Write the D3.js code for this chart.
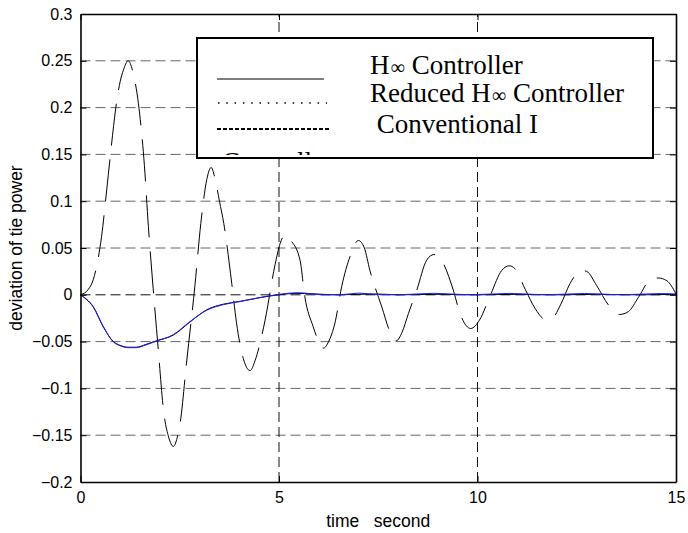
<!DOCTYPE html>
<html>
<head>
<meta charset="utf-8">
<title>deviation of tie power</title>
<script src="https://cdn.jsdelivr.net/npm/d3@7/dist/d3.min.js"></script>
<style>
  body { margin: 0; background: #fff; }
  svg { display: block; }
  .tick-label { font-family: "Liberation Sans", Arial, sans-serif; font-size: 16px; fill: #000; }
  .axis-title { font-family: "Liberation Sans", Arial, sans-serif; font-size: 17.5px; fill: #000; }
  .legend-text { font-family: "Liberation Serif", "Times New Roman", serif; font-size: 27px; fill: #000; }
</style>
</head>
<body>
<div id="chart"></div>
<script>
// time axis ticks and value ticks
var xTicks = [0, 5, 10, 15];
var yTicks = [-0.2, -0.15, -0.1, -0.05, 0, 0.05, 0.1, 0.15, 0.2, 0.25, 0.3];

// H-infinity controller response (time, value)
var hinfT = [0, 0.15, 0.32, 0.57, 0.83, 1.0, 1.2, 1.4, 1.65, 1.92, 2.34, 2.76, 3.18, 3.6, 4.02, 4.52, 5.0, 5.4, 5.9, 6.4, 7.0, 7.5, 8.0, 9.0, 10.0, 11.0, 12.0, 13.0, 14.0, 15.0];
var hinfV = [0, -0.005, -0.013, -0.034, -0.050, -0.054, -0.056, -0.056, -0.053, -0.049, -0.043, -0.029, -0.016, -0.010, -0.007, -0.003, 0.0, 0.0015, 0.001, 0.0, 0.0005, 0.0008, 0.0, 0.0005, 0.0, 0.0005, 0.0, 0.0005, 0.0, 0.0005];

// reduced H-infinity controller response
var redT = [0, 0.15, 0.32, 0.57, 0.83, 1.0, 1.2, 1.4, 1.65, 1.92, 2.34, 2.76, 3.18, 3.6, 4.02, 4.52, 5.0, 5.5, 6.1, 6.6, 7.0, 7.5, 8.0, 8.9, 9.8, 10.8, 11.7, 12.7, 13.6, 14.6, 15.0];
var redV = [0, -0.0045, -0.0125, -0.0335, -0.0505, -0.0545, -0.0565, -0.0565, -0.0535, -0.0495, -0.0425, -0.0285, -0.0165, -0.0105, -0.0072, -0.003, 0.0005, 0.0022, 0.0, 0.0002, 0.0018, 0.0003, 0.0, 0.0016, 0.0, 0.0015, 0.0, 0.0014, 0.0, 0.0013, 0.0008];

// conventional integral controller response
var convT = [0, 0.2, 0.32, 0.45, 0.53, 0.66, 0.78, 0.89, 1.0, 1.08, 1.2, 1.32, 1.46, 1.61, 1.71, 1.83, 1.96, 2.09, 2.22, 2.34, 2.45, 2.51, 2.67, 2.88, 3.03, 3.18, 3.29, 3.39, 3.5, 3.61, 3.81, 3.93, 4.1, 4.27, 4.4, 4.52, 4.65, 4.9, 5.03, 5.15, 5.3, 5.53, 5.65, 5.86, 6.0, 6.12, 6.25, 6.41, 6.58, 6.79, 7.0, 7.15, 7.29, 7.59, 7.8, 7.96, 8.1, 8.26, 8.47, 8.72, 8.9, 9.06, 9.39, 9.56, 9.83, 10.05, 10.31, 10.61, 10.8, 10.94, 11.2, 11.45, 11.7, 11.9, 12.1, 12.33, 12.62, 12.75, 13.0, 13.3, 13.58, 13.8, 14.05, 14.35, 14.55, 14.77, 15.0];
var convV = [0, 0.006, 0.016, 0.040, 0.062, 0.112, 0.160, 0.200, 0.228, 0.240, 0.250, 0.238, 0.204, 0.138, 0.073, 0.007, -0.059, -0.123, -0.152, -0.162, -0.150, -0.137, -0.073, 0.009, 0.076, 0.123, 0.136, 0.124, 0.100, 0.076, 0.012, -0.030, -0.068, -0.081, -0.070, -0.052, -0.027, 0.032, 0.055, 0.064, 0.058, 0.037, -0.002, -0.034, -0.050, -0.057, -0.050, -0.030, 0.009, 0.041, 0.058, 0.050, 0.026, -0.013, -0.040, -0.049, -0.040, -0.020, 0.005, 0.037, 0.043, 0.039, 0.005, -0.020, -0.036, -0.027, -0.002, 0.026, 0.031, 0.028, 0.006, -0.0145, -0.026, -0.024, -0.010, 0.012, 0.026, 0.025, 0.010, -0.011, -0.021, -0.018, -0.003, 0.016, 0.018, 0.015, 0.001];

var legendLabels = ["H", "Reduced H", " Conventional I", "Controller"];

var W = 688, H = 533;
var margin = {top: 14, right: 12, bottom: 51, left: 80.5};
var width = W - margin.left - margin.right,
    height = H - margin.top - margin.bottom;

var x = d3.scaleLinear().domain([0, 15]).range([0, width]);
var y = d3.scaleLinear().domain([-0.2, 0.3]).range([height, 0]);

var svg = d3.select("#chart").append("svg")
    .attr("width", W)
    .attr("height", H);

var g = svg.append("g")
    .attr("transform", "translate(" + margin.left + "," + margin.top + ")");

// grid
g.selectAll(".hgrid")
    .data(yTicks.filter(function(d) { return d > -0.2 && d < 0.3; }))
  .enter().append("line")
    .attr("x1", 0).attr("x2", width)
    .attr("y1", function(d) { return y(d); })
    .attr("y2", function(d) { return y(d); })
    .attr("stroke", function(d) { return d === 0 ? "#111" : "#666"; })
    .attr("stroke-width", 1)
    .attr("stroke-dasharray", "10,5");

g.selectAll(".vgrid")
    .data([5, 10])
  .enter().append("line")
    .attr("y1", height).attr("y2", 0)
    .attr("x1", function(d) { return x(d); })
    .attr("x2", function(d) { return x(d); })
    .attr("stroke", "#111")
    .attr("stroke-width", 1)
    .attr("stroke-dasharray", "10,5");

// curves
var line = d3.line()
    .x(function(d) { return x(d[0]); })
    .y(function(d) { return y(d[1]); })
    .curve(d3.curveMonotoneX);

function pairs(ts, vs) { return ts.map(function(t, i) { return [t, vs[i]]; }); }

g.append("path")
    .attr("d", line(pairs(convT, convV)))
    .attr("fill", "none")
    .attr("stroke", "#000")
    .attr("stroke-width", 1)
    .attr("stroke-dasharray", "42,14")
    .attr("stroke-dashoffset", 12);

g.append("path")
    .attr("d", line(pairs(hinfT, hinfV)))
    .attr("fill", "none")
    .attr("stroke", "#000")
    .attr("stroke-width", 1);

g.append("path")
    .attr("d", line(pairs(redT, redV)))
    .attr("fill", "none")
    .attr("stroke", "#1a1aff")
    .attr("stroke-width", 1);

// axes box with inward ticks
var axB = g.append("g").attr("transform", "translate(0," + height + ")")
    .call(d3.axisBottom(x).tickValues(xTicks).tickSizeInner(-6).tickSizeOuter(0).tickPadding(10));
var axT = g.append("g")
    .call(d3.axisTop(x).tickValues(xTicks).tickSizeInner(-6).tickSizeOuter(0).tickFormat(""));
var axL = g.append("g")
    .call(d3.axisLeft(y).tickValues(yTicks).tickSizeInner(-6).tickSizeOuter(0).tickPadding(8)
      .tickFormat(function(d) { return d3.format("")(+d.toFixed(2)); }));
var axR = g.append("g").attr("transform", "translate(" + width + ",0)")
    .call(d3.axisRight(y).tickValues(yTicks).tickSizeInner(-6).tickSizeOuter(0).tickFormat(""));

[axB, axT, axL, axR].forEach(function(a) {
  a.select(".domain").attr("stroke", "#000").attr("stroke-width", 1.6);
  a.selectAll(".tick line").attr("stroke", "#000");
  a.selectAll("text").attr("class", "tick-label").attr("font-family", null).attr("font-size", null);
});

// axis titles
svg.append("text")
    .attr("class", "axis-title")
    .attr("x", margin.left + width / 2)
    .attr("y", 527)
    .attr("text-anchor", "middle")
    .style("white-space", "pre")
    .text("time   second");

svg.append("text")
    .attr("class", "axis-title")
    .attr("transform", "translate(22," + (margin.top + height / 2) + ") rotate(-90)")
    .attr("text-anchor", "middle")
    .text("deviation of tie power");

// legend
var lg = svg.append("g");
var lx = 197, ly = 38, lw = 456, lh = 120;
svg.append("defs").append("clipPath").attr("id", "legclip")
  .append("rect").attr("x", lx).attr("y", ly).attr("width", lw).attr("height", lh - 3);

lg.append("rect")
    .attr("x", lx).attr("y", ly).attr("width", lw).attr("height", lh)
    .attr("fill", "#fff").attr("stroke", "#000").attr("stroke-width", 2);

lg.append("line").attr("x1", 217).attr("x2", 324).attr("y1", 79).attr("y2", 79)
    .attr("stroke", "#000").attr("stroke-width", 1);
lg.append("line").attr("x1", 218).attr("x2", 327).attr("y1", 103).attr("y2", 103)
    .attr("stroke", "#000").attr("stroke-width", 1.5).attr("stroke-dasharray", "1.5,6.8");
lg.append("line").attr("x1", 217).attr("x2", 330).attr("y1", 129).attr("y2", 129)
    .attr("stroke", "#000").attr("stroke-width", 2).attr("stroke-dasharray", "4,2");

var lt = lg.append("g").attr("clip-path", "url(#legclip)");
var t1 = lt.append("text").attr("class", "legend-text").attr("x", 370).attr("y", 74);
t1.append("tspan").text(legendLabels[0]);
t1.append("tspan").attr("font-size", "20px").attr("dx", 1).text("\u221E");
t1.append("tspan").attr("dx", 7).text("Controller");

var t2 = lt.append("text").attr("class", "legend-text").attr("x", 370).attr("y", 102);
t2.append("tspan").text(legendLabels[1]);
t2.append("tspan").attr("font-size", "20px").attr("dx", 1).text("\u221E");
t2.append("tspan").attr("dx", 7).text("Controller");

lt.append("text").attr("class", "legend-text").attr("x", 370).attr("y", 133)
    .style("white-space", "pre").text(legendLabels[2]);
lt.append("text").attr("class", "legend-text").attr("x", 222).attr("y", 171)
    .text(legendLabels[3]);
</script>
</body>
</html>
